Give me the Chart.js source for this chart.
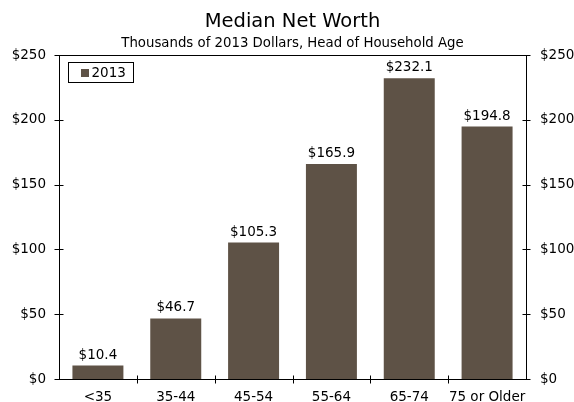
<!DOCTYPE html>
<html>
<head>
<meta charset="utf-8">
<script src="https://cdn.jsdelivr.net/npm/chart.js@4/dist/chart.umd.min.js"></script>
<style>
  html, body { margin: 0; padding: 0; background: #fff; }
  #wrap { width: 574px; height: 402px; }
</style>
</head>
<body>
<div id="wrap"><canvas id="c" width="574" height="402"></canvas></div>
<script>
// Median net worth by age of head of household, thousands of 2013 dollars
const categories = ['<35', '35-44', '45-54', '55-64', '65-74', '75 or Older'];
const values2013 = [10.4, 46.7, 105.3, 165.9, 232.1, 194.8];
const seriesName = '2013';
const yTicks = [0, 50, 100, 150, 200, 250];

const FONT = 'Verdana, "DejaVu Sans", sans-serif';
const BAR = '#5e5246';
const INK = '#000';
const TXT = 13.5;

const fmt = v => '$' + v;

// Titles, axis frame, cross tick marks, value labels and the boxed legend
const decor = {
  id: 'decor',
  afterDraw(chart) {
    const { ctx, chartArea: a, scales } = chart;
    const y = scales.y, x = scales.x;
    ctx.save();
    ctx.fillStyle = INK;
    ctx.textAlign = 'center';
    ctx.textBaseline = 'alphabetic';
    const cx = (a.left + a.right) / 2;
    ctx.font = '19.5px ' + FONT;
    ctx.fillText('Median Net Worth', cx, 27);
    ctx.font = '13.3px ' + FONT;
    ctx.fillText('Thousands of 2013 Dollars, Head of Household Age', cx, 46.5);

    // frame
    ctx.strokeStyle = INK;
    ctx.lineWidth = 1;
    ctx.beginPath();
    const L = Math.round(a.left) + 0.5, R = Math.round(a.right) + 0.5;
    const T = Math.round(a.top) + 0.5, B = Math.round(a.bottom) + 0.5;
    ctx.moveTo(L, B); ctx.lineTo(L, T); ctx.lineTo(R, T); ctx.lineTo(R, B); ctx.lineTo(L, B);
    // y ticks crossing both vertical axes
    yTicks.forEach(t => {
      const py = Math.round(y.getPixelForValue(t)) + 0.5;
      ctx.moveTo(L - 5, py); ctx.lineTo(L + 4, py);
      ctx.moveTo(R - 4, py); ctx.lineTo(R + 4, py);
    });
    // x ticks at category boundaries
    for (let i = 1; i < categories.length; i++) {
      const px = Math.round((x.getPixelForValue(i - 1) + x.getPixelForValue(i)) / 2) + 0.5;
      ctx.moveTo(px, B - 4); ctx.lineTo(px, B + 4);
    }
    ctx.stroke();

    // value labels
    ctx.font = TXT + 'px ' + FONT;
    ctx.textBaseline = 'alphabetic';
    const meta = chart.getDatasetMeta(0);
    meta.data.forEach((bar, i) => {
      ctx.fillText('$' + values2013[i].toFixed(1), bar.x, bar.y - 7);
    });

    // legend box
    const lx = Math.round(a.left) + 9.5, ly = Math.round(a.top) + 7.5, lw = 65, lh = 20;
    ctx.fillStyle = '#fff';
    ctx.fillRect(lx, ly, lw, lh);
    ctx.strokeRect(lx, ly, lw, lh);
    ctx.fillStyle = BAR;
    ctx.fillRect(lx + 12.5, ly + 6.5, 8, 8);
    ctx.fillStyle = INK;
    ctx.textAlign = 'left';
    ctx.textBaseline = 'middle';
    ctx.fillText(seriesName, lx + 23, ly + lh / 2 + 1);
    ctx.restore();
  }
};

new Chart(document.getElementById('c'), {
  type: 'bar',
  data: {
    labels: categories,
    datasets: [{
      label: seriesName,
      data: values2013,
      backgroundColor: BAR,
      borderWidth: 0,
      categoryPercentage: 1,
      barPercentage: 0.655,
      yAxisID: 'y'
    }]
  },
  options: {
    responsive: false,
    animation: false,
    layout: { padding: { top: 55, left: 0, right: 0, bottom: 0 } },
    plugins: { legend: { display: false }, tooltip: { enabled: false }, title: { display: false } },
    scales: {
      x: {
        grid: { display: false, drawTicks: false },
        border: { display: false },
        ticks: { color: INK, font: { family: FONT, size: TXT }, padding: 10, maxRotation: 0, autoSkip: false },
        afterFit: s => { s.height = 23; }
      },
      y: {
        position: 'left',
        min: 0, max: 250,
        afterBuildTicks: s => { s.ticks = yTicks.map(v => ({ value: v })); },
        grid: { display: false, drawTicks: false },
        border: { display: false },
        ticks: { color: INK, font: { family: FONT, size: TXT }, padding: 13, callback: fmt },
        afterFit: s => { s.width = 59; }
      },
      y2: {
        position: 'right',
        min: 0, max: 250,
        afterBuildTicks: s => { s.ticks = yTicks.map(v => ({ value: v })); },
        grid: { display: false, drawTicks: false },
        border: { display: false },
        ticks: { color: INK, font: { family: FONT, size: TXT }, padding: 14, callback: fmt },
        afterFit: s => { s.width = 48; }
      }
    }
  },
  plugins: [decor]
});
</script>
</body>
</html>
